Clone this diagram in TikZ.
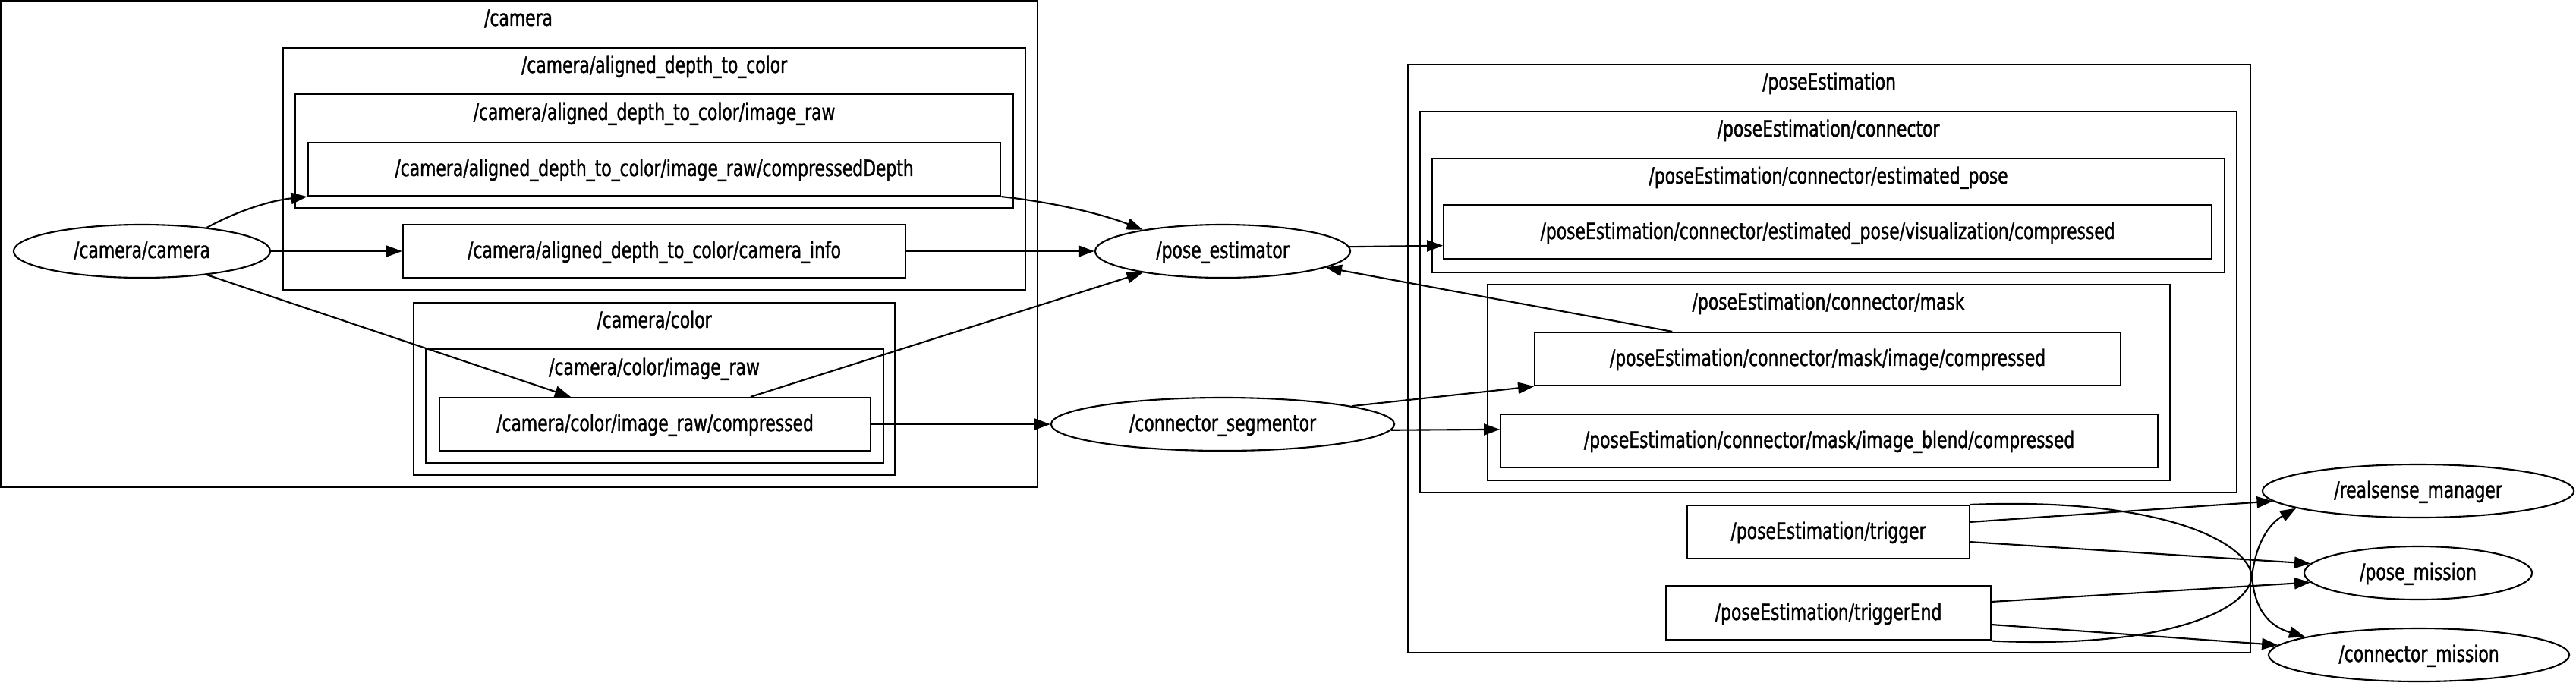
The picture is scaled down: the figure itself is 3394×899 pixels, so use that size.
\documentclass[tikz,border=0pt]{standalone}
\usepackage{fontspec}
\newfontfamily\gvfont[FakeStretch=0.74,FakeBold=1.3]{DejaVu Sans}
\usetikzlibrary{arrows.meta,shapes.geometric}
\begin{document}
\begin{tikzpicture}[x=0.01cm,y=-0.01cm,
  every node/.style={font=\gvfont\fontsize{8.4pt}{10pt}\selectfont, text height=6.4pt, text depth=1.3pt, inner sep=0pt},
  topic/.style={draw, rectangle, line width=0.6pt},
  rosnode/.style={draw, ellipse, line width=0.6pt},
  cluster/.style={draw, rectangle, line width=0.6pt},
  edge/.style={-{Triangle[length=6pt,width=4.3pt]}, line width=0.6pt}]
\fill[white] (0,0) rectangle (3394,899);
\useasboundingbox (0,0) rectangle (3394,899);

% clusters
\node[cluster, minimum width=13.66cm, minimum height=6.41cm] (c_cam) at (684,321.5) {};
\node (t_cam) at (683,25) {/camera};
\node[cluster, minimum width=9.78cm, minimum height=3.19cm] (c_adc) at (862,222.5) {};
\node (t_adc) at (862,87) {/camera/aligned\_depth\_to\_color};
\node[cluster, minimum width=9.46cm, minimum height=1.50cm] (c_adcir) at (862,199) {};
\node (t_adcir) at (862,149) {/camera/aligned\_depth\_to\_color/image\_raw};
\node[cluster, minimum width=6.34cm, minimum height=2.27cm] (c_col) at (862,512.5) {};
\node (t_col) at (862,423) {/camera/color};
\node[cluster, minimum width=6.03cm, minimum height=1.50cm] (c_colir) at (862.5,535) {};
\node (t_colir) at (862,485) {/camera/color/image\_raw};

\node[cluster, minimum width=11.10cm, minimum height=7.75cm] (c_pe) at (2410,472.5) {};
\node (t_pe) at (2410,109) {/poseEstimation};
\node[cluster, minimum width=10.76cm, minimum height=5.02cm] (c_con) at (2409,398) {};
\node (t_con) at (2409,171) {/poseEstimation/connector};
\node[cluster, minimum width=10.44cm, minimum height=1.50cm] (c_est) at (2409,284) {};
\node (t_est) at (2409,233) {/poseEstimation/connector/estimated\_pose};
\node[cluster, minimum width=8.99cm, minimum height=2.58cm] (c_mask) at (2409.5,504) {};
\node (t_mask) at (2409,399) {/poseEstimation/connector/mask};

% nodes
\node[rosnode, minimum width=3.38cm, minimum height=0.70cm] (n_cam) at (187,331) {/camera/camera};
\node[topic, minimum width=9.12cm, minimum height=0.70cm] (n_cd) at (862,223) {/camera/aligned\_depth\_to\_color/image\_raw/compressedDepth};
\node[topic, minimum width=6.62cm, minimum height=0.70cm] (n_ci) at (862,331) {/camera/aligned\_depth\_to\_color/camera\_info};
\node[topic, minimum width=5.68cm, minimum height=0.70cm] (n_cc) at (863,559) {/camera/color/image\_raw/compressed};
\node[rosnode, minimum width=3.36cm, minimum height=0.70cm] (n_pe) at (1611,331) {/pose\_estimator};
\node[rosnode, minimum width=4.52cm, minimum height=0.70cm] (n_seg) at (1611,559) {/connector\_segmentor};
\node[topic, minimum width=10.11cm, minimum height=0.71cm] (n_vis) at (2408,306) {/poseEstimation/connector/estimated\_pose/visualization/compressed};
\node[topic, minimum width=7.71cm, minimum height=0.70cm] (n_mi) at (2408,473) {/poseEstimation/connector/mask/image/compressed};
\node[topic, minimum width=8.65cm, minimum height=0.70cm] (n_mb) at (2410,581) {/poseEstimation/connector/mask/image\_blend/compressed};
\node[topic, minimum width=3.72cm, minimum height=0.70cm] (n_tr) at (2409,701) {/poseEstimation/trigger};
\node[topic, minimum width=4.28cm, minimum height=0.71cm] (n_te) at (2409,808) {/poseEstimation/triggerEnd};
\node[rosnode, minimum width=4.10cm, minimum height=0.70cm] (n_rs) at (3186,647) {/realsense\_manager};
\node[rosnode, minimum width=3.00cm, minimum height=0.70cm] (n_pm) at (3186,755) {/pose\_mission};
\node[rosnode, minimum width=3.96cm, minimum height=0.70cm] (n_cm) at (3187,863) {/connector\_mission};

% edges
\draw[edge] (n_cam.20) .. controls (305,282) and (350,265) .. (n_cd.south west);
\draw[edge] (n_cam.east) -- (n_ci.west);
\draw[edge] (n_cam.340) -- (n_cc.162);
\draw[edge] (n_cd.south east) .. controls (1400,268) and (1460,285) .. (n_pe.165);
\draw[edge] (n_ci.east) -- (n_pe.west);
\draw[edge] (n_cc.16) -- (n_pe.195);
\draw[edge] (n_cc.east) -- (n_seg.west);
\draw[edge] (n_pe.2) -- (n_vis.182);
\draw[edge] (n_mi.170) -- (n_pe.351);
\draw[edge] (n_seg.8) -- (n_mi.south west);
\draw[edge] (n_seg.358) -- (n_mb.178);
\draw[edge] (n_tr.4) -- (n_rs.184);
\draw[edge] (n_tr.356) -- (n_pm.175);
\draw[edge] (n_te.4) -- (n_pm.185);
\draw[edge] (n_te.356) -- (n_cm.176);
\draw[edge] (n_tr.north east) .. controls (2850,655) and (2963,715) .. (2967,760) .. controls (2971,805) and (2990,825) .. (n_cm.171);
\draw[edge] (n_te.south east) .. controls (2850,855) and (2962,805) .. (2967,760) .. controls (2972,715) and (2990,690) .. (n_rs.188);
\end{tikzpicture}
\end{document}
